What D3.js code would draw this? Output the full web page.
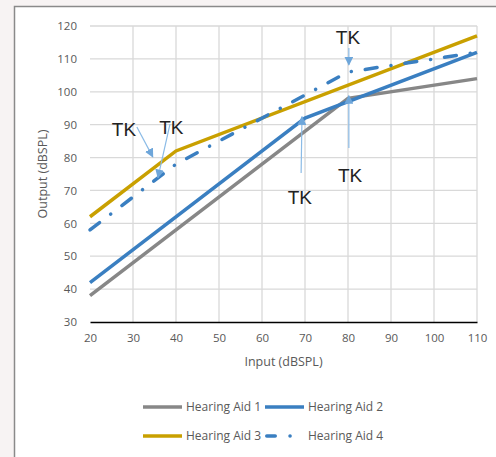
<!DOCTYPE html>
<html>
<head>
<meta charset="utf-8">
<script src="https://cdn.jsdelivr.net/npm/d3@7"></script>
<style>
  body { margin: 0; background: #f7f3f3; }
  svg { display: block; }
</style>
</head>
<body>
<svg id="chart"></svg>
<script>
const width = 496
const height = 457

// Data
const inputLevels = [20, 30, 40, 50, 60, 70, 80, 90, 100, 110]
const outputTicks = [30, 40, 50, 60, 70, 80, 90, 100, 110, 120]

const aid1 = [[20, 38], [80, 98], [110, 104]]
const aid2 = [[20, 42], [70, 92], [110, 112]]
const aid3 = [[20, 62], [40, 82], [110, 117]]
const aid4 = [[20, 58], [40, 78], [80, 106], [110, 112]]

const seriesNames = ['Hearing Aid 1', 'Hearing Aid 2', 'Hearing Aid 3', 'Hearing Aid 4']
const seriesColors = ['#878787', '#3a7fc1', '#c9a000', '#3a7fc1']
const seriesData = [aid1, aid2, aid3, aid4]

// annotations: label position, arrow start, arrow tip (data units)
const noteLabels = ['TK', 'TK', 'TK', 'TK', 'TK']
const noteText = [[27.9, 88.6], [38.9, 89.2], [80, 116.6], [68.8, 67.9], [80.5, 74.6]]
const noteFrom = [[30.9, 89.3], [38.6, 90.2], [80.2, 113.3], [69.1, 75.3], [80.2, 82.9]]
const noteTo = [[34.6, 80.2], [35.8, 73.9], [80.2, 108.2], [69.3, 92.4], [80.2, 98.8]]

const margin = { top: 26, right: 19, bottom: 135, left: 90 }
const plotW = width - margin.left - margin.right
const plotH = height - margin.top - margin.bottom

var svg = d3.select('#chart')
    .attr('width', width)
    .attr('height', height)
    .style('font-family', '"Open Sans", sans-serif');

// white panel with grey border (left and top only visible)
svg.append('rect')
    .attr('x', 14.5).attr('y', 6.5)
    .attr('width', width + 10).attr('height', height + 10)
    .attr('fill', '#ffffff')
    .attr('stroke', '#8a8a8a')
    .attr('stroke-width', 1.5);

var xScale = d3.scaleLinear().domain([20, 110]).range([0, plotW]);
var yScale = d3.scaleLinear().domain([30, 120]).range([plotH, 0]);

var g = svg.append('g')
    .attr('transform', `translate(${margin.left},${margin.top})`);

// gridlines
g.append('g')
    .selectAll('line')
    .data(inputLevels.slice(1))
    .enter()
    .append('line')
    .attr('x1', d => xScale(d)).attr('x2', d => xScale(d))
    .attr('y1', 0).attr('y2', plotH)
    .attr('stroke', '#d9d9d9').attr('stroke-width', 1.3);

g.append('g')
    .selectAll('line')
    .data(outputTicks.slice(1))
    .enter()
    .append('line')
    .attr('x1', 0).attr('x2', plotW)
    .attr('y1', d => yScale(d)).attr('y2', d => yScale(d))
    .attr('stroke', '#d9d9d9').attr('stroke-width', 1.3);

// axes
var xAxis = g.append('g')
    .attr('transform', `translate(0,${plotH})`)
    .call(d3.axisBottom(xScale).tickValues(inputLevels).tickSize(0).tickPadding(12));
xAxis.select('.domain').attr('stroke', '#000').attr('stroke-width', 1.5);

var yAxis = g.append('g')
    .call(d3.axisLeft(yScale).tickValues(outputTicks).tickSize(0).tickPadding(13));
yAxis.select('.domain').remove();

svg.selectAll('.tick text')
    .attr('fill', '#595959')
    .style('font-size', '11.5px')
    .style('font-family', '"Open Sans", sans-serif');

// axis titles
svg.append('text')
    .attr('x', margin.left + plotW / 2)
    .attr('y', 366)
    .attr('text-anchor', 'middle')
    .attr('fill', '#595959')
    .style('font-size', '12.5px')
    .text('Input (dBSPL)');

svg.append('text')
    .attr('transform', `translate(47,${margin.top + plotH / 2}) rotate(-90)`)
    .attr('text-anchor', 'middle')
    .attr('fill', '#595959')
    .style('font-size', '12.5px')
    .text('Output (dBSPL)');

// lines
var line = d3.line()
    .x(d => xScale(d[0]))
    .y(d => yScale(d[1]));

g.selectAll('.series')
    .data(seriesData)
    .enter()
    .append('path')
    .attr('class', 'series')
    .attr('d', d => line(d))
    .attr('fill', 'none')
    .attr('stroke', (d, i) => seriesColors[i])
    .attr('stroke-width', 3.5)
    .attr('stroke-linecap', (d, i) => i == 3 ? 'round' : 'butt')
    .attr('stroke-dasharray', (d, i) => i == 3 ? '12,14,0.1,14' : null);

// annotations
svg.append('defs').append('marker')
    .attr('id', 'arrow')
    .attr('viewBox', '0 0 10 10')
    .attr('refX', 9).attr('refY', 5)
    .attr('markerWidth', 9).attr('markerHeight', 9)
    .attr('markerUnits', 'userSpaceOnUse')
    .attr('orient', 'auto')
    .append('path')
    .attr('d', 'M0,0L10,5L0,10Z')
    .attr('fill', '#6ea6da');

noteLabels.forEach(function (label, i) {
    g.append('line')
        .attr('x1', xScale(noteFrom[i][0])).attr('y1', yScale(noteFrom[i][1]))
        .attr('x2', xScale(noteTo[i][0])).attr('y2', yScale(noteTo[i][1]))
        .attr('stroke', '#8bbbe6')
        .attr('stroke-width', 1.2)
        .attr('marker-end', 'url(#arrow)');
    g.append('text')
        .attr('x', xScale(noteText[i][0]))
        .attr('y', yScale(noteText[i][1]))
        .attr('dy', '0.36em')
        .attr('text-anchor', 'middle')
        .attr('fill', '#222')
        .style('font-family', '"Liberation Sans", Arial, sans-serif')
        .style('font-size', '19px')
        .text(label);
});

// legend
var legendX = [143, 265]
var legendY = [407, 436]
seriesNames.forEach(function (name, i) {
    var lx = legendX[i % 2];
    var ly = legendY[Math.floor(i / 2)];
    svg.append('line')
        .attr('x1', i == 3 ? lx + 1.75 : lx).attr('x2', lx + 39)
        .attr('y1', ly).attr('y2', ly)
        .attr('stroke', seriesColors[i])
        .attr('stroke-width', 3.5)
        .attr('stroke-linecap', i == 3 ? 'round' : 'butt')
        .attr('stroke-dasharray', i == 3 ? '8.5,14.75,0.1,40' : null);
    svg.append('text')
        .attr('x', lx + 43)
        .attr('y', ly)
        .attr('dy', '0.35em')
        .attr('fill', '#595959')
        .style('font-size', '12px')
        .text(name);
});
</script>
</body>
</html>
